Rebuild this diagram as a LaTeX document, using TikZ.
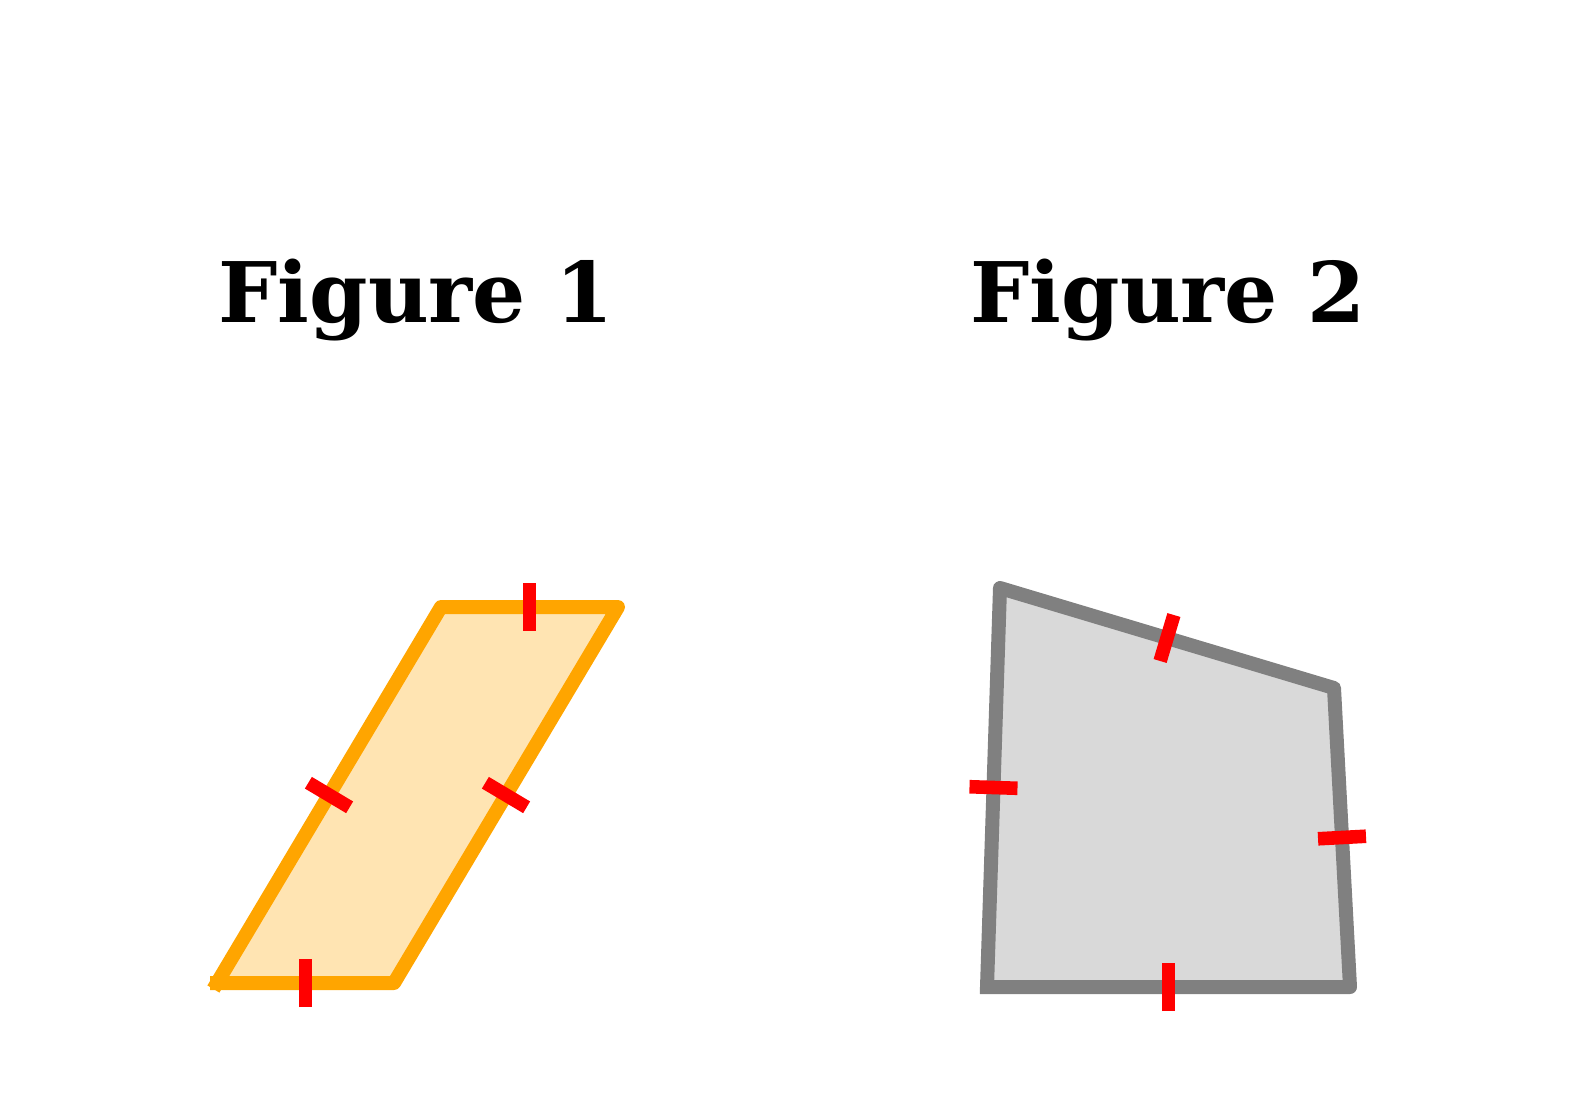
\documentclass[tikz,border=0pt]{standalone}
\usepackage{fontspec}
\setmainfont{DejaVu Serif}
\usetikzlibrary{calc,positioning}
\definecolor{edgeorange}{HTML}{FFA500}
\definecolor{fillorange}{HTML}{FFE4B2}
\definecolor{edgegray}{HTML}{808080}
\definecolor{fillgray}{HTML}{D9D9D9}
\definecolor{tickred}{HTML}{FF0000}
\tikzset{
    %Define style for the titles
    title/.style={
           anchor=base,
           inner sep=0pt,
           font=\fontsize{41.8}{50}\selectfont\bfseries},
    %Define style for the two outlines
    outline/.style={
           line width=7pt,
           line join=round,
           line cap=rect},
    % Define style for the equal-side marks
    sidetick/.style={
           draw=tickred,
           line width=6.8pt,
           line cap=butt}
}
% mark in the middle of a side, square to it
\newcommand{\sidemark}[2]{%
  \coordinate (m#1#2) at ($(#1)!0.5!(#2)$);
  \draw[sidetick] ($(m#1#2)!12pt!90:(#2)$) -- ($(m#1#2)!12pt!-90:(#2)$);}
\begin{document}
\begin{tikzpicture}[x=0.5pt,y=-0.5pt]
\useasboundingbox (0,0) rectangle (1586,1093);
\node[title] (T1) at (416,322) {Figure 1};
\node[title] (T2) at (1168,322) {Figure 2};
% parallelogram
\coordinate (A) at (217,983);
\coordinate (B) at (441,607);
\coordinate (C) at (618,607);
\coordinate (D) at (394,983);
\fill[fillorange] (A) -- (B) -- (C) -- (D) -- cycle;
\draw[outline, draw=edgeorange] (A) -- (B) -- (C) -- (D) -- (A);
\sidemark{A}{B}
\sidemark{B}{C}
\sidemark{C}{D}
\sidemark{D}{A}
% quadrilateral
\coordinate (E) at (987,987);
\coordinate (F) at (1000,588);
\coordinate (G) at (1334,688);
\coordinate (H) at (1350,987);
\fill[fillgray] (E) -- (F) -- (G) -- (H) -- cycle;
\draw[outline, draw=edgegray] (E) -- (F) -- (G) -- (H) -- (E);
\sidemark{E}{F}
\sidemark{F}{G}
\sidemark{G}{H}
\sidemark{H}{E}
\end{tikzpicture}
\end{document}
